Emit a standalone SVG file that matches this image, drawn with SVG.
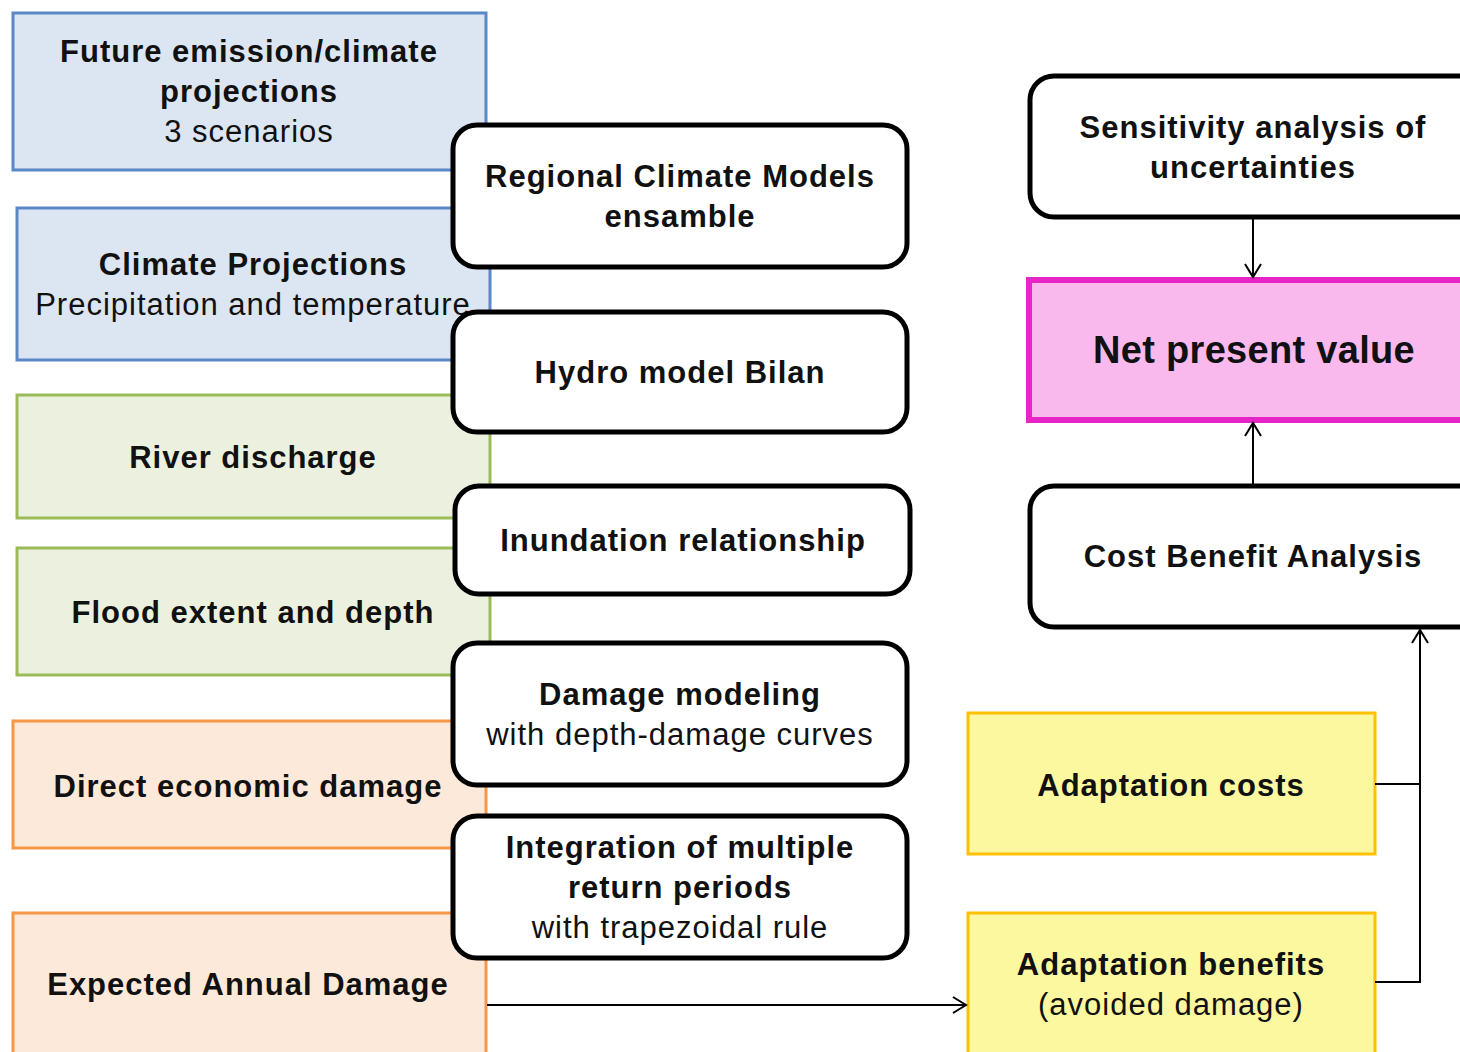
<svg xmlns="http://www.w3.org/2000/svg" width="1460" height="1052" viewBox="0 0 1460 1052">
<style>
text{font-family:"Liberation Sans",Arial,sans-serif;font-size:31px;letter-spacing:1px;fill:#111;text-anchor:middle}
.b{font-weight:bold}
.blue{fill:#dce6f2;stroke:#5a87c5;stroke-width:3}
.green{fill:#ebf1de;stroke:#9bbb59;stroke-width:3}
.orange{fill:#fde9d9;stroke:#f79646;stroke-width:3}
.proc{fill:#fff;stroke:#000;stroke-width:5}
.yel{fill:#fbf8a0;stroke:#ffc000;stroke-width:3}
.npv{fill:#f9b9ec;stroke:#e724c6;stroke-width:6}
.con{fill:none;stroke:#000;stroke-width:2}
</style>
<defs>
<marker id="ah" markerWidth="20" markerHeight="20" refX="16" refY="10" orient="auto" markerUnits="userSpaceOnUse">
<path d="M3,2 L16,10 L3,18" fill="none" stroke="#000" stroke-width="2"/>
</marker>
</defs>
<rect width="1460" height="1052" fill="#fff"/>
<g id="future"><rect class="blue" x="13" y="13" width="473" height="157"/>
<text class="b" x="249" y="62">Future emission/climate</text>
<text class="b" x="249" y="102">projections</text>
<text x="249" y="142">3 scenarios</text></g>
<g id="climproj"><rect class="blue" x="17" y="208" width="473" height="152"/>
<text class="b" x="253" y="275">Climate Projections</text>
<text x="253" y="315">Precipitation and temperature</text></g>
<g id="river"><rect class="green" x="17" y="395" width="473" height="123"/>
<text class="b" x="253" y="468">River discharge</text></g>
<g id="flood"><rect class="green" x="17" y="548" width="473" height="127"/>
<text class="b" x="253" y="623">Flood extent and depth</text></g>
<g id="direct"><rect class="orange" x="13" y="721" width="473" height="127"/>
<text class="b" x="248" y="797">Direct economic damage</text></g>
<g id="ead"><rect class="orange" x="13" y="913" width="473" height="150"/>
<text class="b" x="248" y="995">Expected Annual Damage</text></g>
<g id="rcm"><rect class="proc" x="453" y="125" width="454" height="142" rx="24"/>
<text class="b" x="680" y="187">Regional Climate Models</text>
<text class="b" x="680" y="227">ensamble</text></g>
<g id="hydro"><rect class="proc" x="453" y="312" width="454" height="120" rx="24"/>
<text class="b" x="680" y="383">Hydro model Bilan</text></g>
<g id="inund"><rect class="proc" x="455" y="486" width="455" height="108" rx="24"/>
<text class="b" x="683" y="551">Inundation relationship</text></g>
<g id="damage"><rect class="proc" x="453" y="643" width="454" height="142" rx="24"/>
<text class="b" x="680" y="705">Damage modeling</text>
<text x="680" y="745">with depth-damage curves</text></g>
<g id="integr"><rect class="proc" x="453" y="816" width="454" height="142" rx="24"/>
<text class="b" x="680" y="858">Integration of multiple</text>
<text class="b" x="680" y="898">return periods</text>
<text x="680" y="938">with trapezoidal rule</text></g>
<g id="sens"><rect class="proc" x="1030" y="76" width="460" height="141" rx="24"/>
<text class="b" x="1253" y="138">Sensitivity analysis of</text>
<text class="b" x="1253" y="178">uncertainties</text></g>
<g id="npv"><rect class="npv" x="1029" y="280" width="460" height="140"/>
<text class="b" x="1254" y="363" style="font-size:38px;letter-spacing:0.3px">Net present value</text></g>
<g id="cba"><rect class="proc" x="1030" y="486" width="460" height="141" rx="24"/>
<text class="b" x="1253" y="567">Cost Benefit Analysis</text></g>
<g id="costs"><rect class="yel" x="968" y="713" width="407" height="141"/>
<text class="b" x="1171" y="796">Adaptation costs</text></g>
<g id="benefits"><rect class="yel" x="968" y="913" width="407" height="150"/>
<text class="b" x="1171" y="975">Adaptation benefits</text>
<text x="1171" y="1015">(avoided damage)</text></g>
<g id="connectors">
<path class="con" d="M1253,219 V277" marker-end="url(#ah)"/>
<path class="con" d="M1253,484 V423" marker-end="url(#ah)"/>
<path class="con" d="M1375,784 H1420"/>
<path class="con" d="M1375,982 H1420 V630" marker-end="url(#ah)"/>
<path class="con" d="M487,1005 H966" marker-end="url(#ah)"/>
</g>
</svg>
